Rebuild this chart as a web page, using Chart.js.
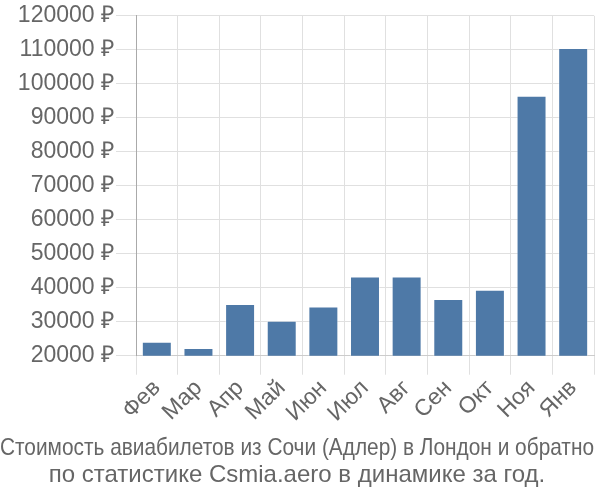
<!DOCTYPE html>
<html>
<head>
<meta charset="utf-8">
<script src="https://cdn.jsdelivr.net/npm/chart.js@4/dist/chart.umd.min.js"></script>
<style>
  html, body { margin: 0; padding: 0; background: #fff; }
  #wrap { width: 600px; height: 500px; }
</style>
</head>
<body>
<div id="wrap"><canvas id="price-chart" width="600" height="500"></canvas></div>
<script>
// Chart data
const months = ['Фев', 'Мар', 'Апр', 'Май', 'Июн', 'Июл', 'Авг', 'Сен', 'Окт', 'Ноя', 'Янв'];
const prices = [24100, 22300, 35200, 30300, 34500, 43300, 43300, 36700, 39400, 96500, 110500];
const titleLines = [
    'Стоимость авиабилетов из Сочи (Адлер) в Лондон и обратно',
    'по статистике Csmia.aero в динамике за год.'
];

Chart.defaults.font.family = '"Liberation Sans", Arial, sans-serif';
Chart.defaults.color = '#666';

new Chart(document.getElementById('price-chart'), {
    type: 'bar',
    data: {
        labels: months,
        datasets: [{
            data: prices,
            backgroundColor: '#4e79a7',
            borderColor: 'rgba(255, 255, 255, 0.4)',
            borderWidth: 1
        }]
    },
    options: {
        responsive: false,
        animation: false,
        layout: { padding: { top: 1, right: 6, left: 0, bottom: 0 } },
        scales: {
            x: {
                grid: { color: '#e0e0e0', lineWidth: 1, tickLength: 19 },
                border: { color: '#ccc' },
                ticks: { font: { size: 23 }, autoSkip: false, maxRotation: 45, minRotation: 45, padding: 0 }
            },
            y: {
                min: 20000,
                max: 120000,
                afterFit: function(scale) {
                    scale.width = 136;
                },
                grid: { color: '#e0e0e0', tickLength: 20 },
                border: { color: '#aaa' },
                ticks: {
                    stepSize: 10000,
                    font: { size: 23 },
                    padding: 2,
                    callback: function(value) {
                        return value + ' ₽';
                    }
                }
            }
        },
        plugins: {
            legend: { display: false },
            tooltip: { enabled: false },
            title: {
                display: true,
                position: 'bottom',
                text: titleLines,
                color: '#666',
                font: { size: 24, weight: 'normal', lineHeight: 1.12 },
                padding: { top: 8, bottom: 11 }
            }
        }
    }
});
</script>
</body>
</html>
